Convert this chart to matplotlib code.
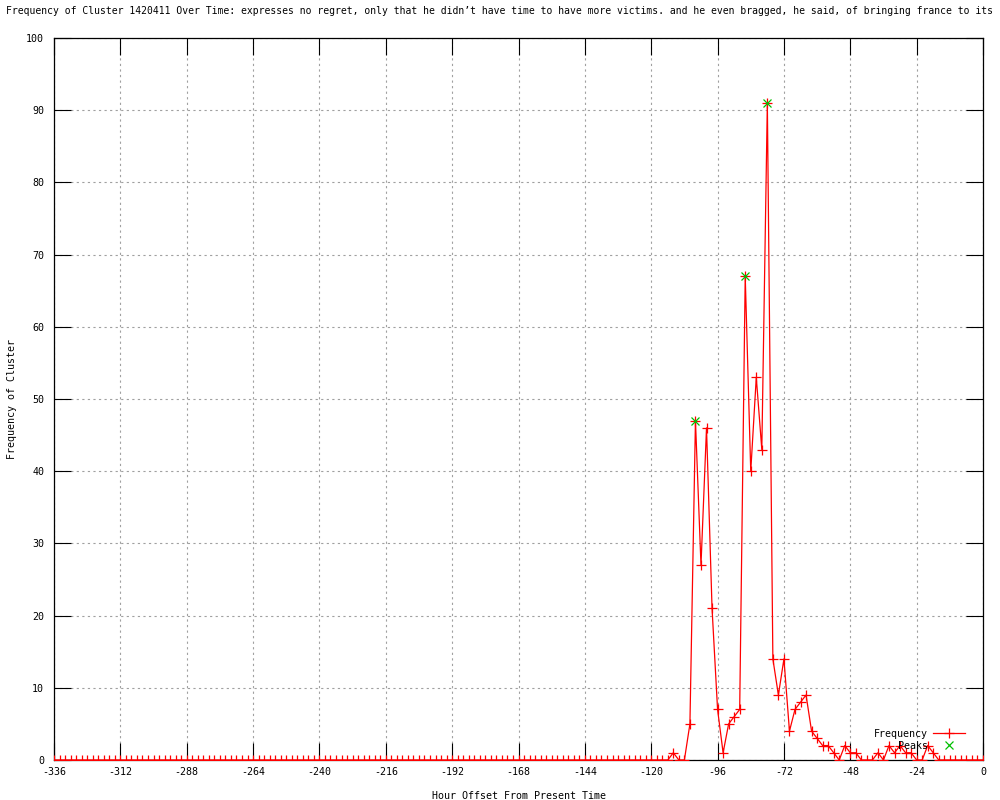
import numpy as np
import matplotlib
matplotlib.use("Agg")
import matplotlib.pyplot as plt

# ---- data ----
hours = list(range(-336, 1, 2))
nonzero = {
    -112: 1, -106: 5, -104: 47, -102: 27, -100: 46, -98: 21, -96: 7, -94: 1,
    -92: 5, -90: 6, -88: 7, -86: 67, -84: 40, -82: 53, -80: 43, -78: 91,
    -76: 14, -74: 9, -72: 14, -70: 4, -68: 7, -66: 8, -64: 9, -62: 4,
    -60: 3, -58: 2, -56: 2, -54: 1, -52: 0, -50: 2, -48: 1, -46: 1,
    -38: 1, -34: 2, -32: 1, -30: 2, -28: 1, -26: 1, -20: 2, -18: 1,
}
frequency = [nonzero.get(h, 0) for h in hours]
peak_hours = [-104, -86, -78]
peak_values = [47, 67, 91]

xticks = list(range(-336, 1, 24))
yticks = list(range(0, 101, 10))

title = ("Frequency of Cluster 1420411 Over Time: expresses no regret, only that he didn\u2019t "
         "have time to have more victims. and he even bragged, he said, of bringing france to its")

font = "DejaVu Sans Mono"
fs = 7.2

fig = plt.figure(figsize=(10, 8), dpi=100)
ax = fig.add_axes([0.054, 0.05, 0.929, 0.9025])

ax.plot(hours, frequency, color="#ff0000", lw=0.9, marker="+", ms=7, mew=0.9,
        label="Frequency", zorder=3)
ax.plot(peak_hours, peak_values, ls="none", color="#00c000", marker="x", ms=6,
        mew=0.9, label="Peaks", zorder=4)

ax.set_xlim(-336, 0)
ax.set_ylim(0, 100)
ax.set_xticks(xticks)
ax.set_yticks(yticks)
ax.set_xticklabels([str(t) for t in xticks], fontfamily=font, fontsize=fs)
ax.set_yticklabels([str(t) for t in yticks], fontfamily=font, fontsize=fs)
ax.tick_params(direction="in", length=12, width=0.8, top=True, right=True,
               colors="black")
ax.tick_params(axis="x", pad=5)
ax.tick_params(axis="y", pad=7)
ax.grid(True, color="#a0a0a0", ls=(0, (2, 3)), lw=0.8)
for s in ax.spines.values():
    s.set_linewidth(0.9)
    s.set_color("black")

ax.set_xlabel("Hour Offset From Present Time", fontfamily=font, fontsize=fs,
              labelpad=10)
ax.set_ylabel("Frequency of Cluster", fontfamily=font, fontsize=fs, labelpad=7)

fig.text(0.5, 0.9865, title, fontfamily=font, fontsize=7.05, ha="center", va="center")

leg = ax.legend(loc="lower right", bbox_to_anchor=(0.985, 0.007), frameon=False,
                markerfirst=False, prop={"family": font, "size": fs},
                handlelength=3.2, labelspacing=0.2, handletextpad=0.5,
                borderaxespad=0.0)

fig.savefig("out.png", dpi=100)
